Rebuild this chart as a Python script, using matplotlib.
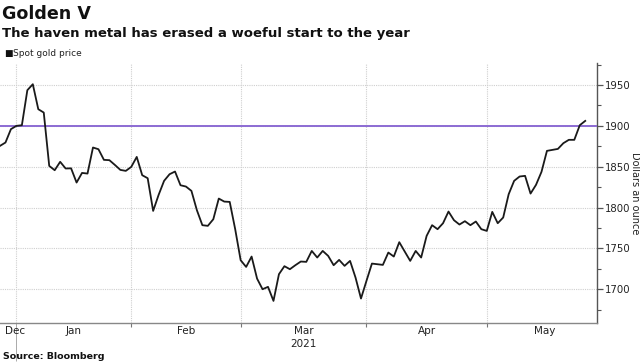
import numpy as np
import pandas as pd
import matplotlib
matplotlib.use("Agg")
import matplotlib.pyplot as plt
import matplotlib.transforms as mtransforms
from matplotlib.ticker import FixedLocator, MultipleLocator, NullFormatter

# spot gold, one value per trading day from 28 Dec 2020
prices = [
    1875.5, 1879.6, 1896.0, 1900.0, 1900.8, 1943.7, 1951.0, 1920.4, 1916.3, 1851.0,
    1845.7, 1856.0, 1847.8, 1848.0, 1830.6, 1842.4, 1841.6, 1873.5, 1871.4, 1858.4,
    1858.0, 1852.2, 1846.1, 1844.9, 1849.8, 1862.0, 1839.6, 1835.9, 1795.9, 1815.5,
    1832.7, 1840.8, 1844.1, 1827.3, 1825.7, 1820.4, 1796.7, 1778.4, 1777.6, 1785.7,
    1811.0, 1807.3, 1806.9, 1773.5, 1735.5, 1727.3, 1740.0, 1713.0, 1700.0, 1702.9,
    1685.7, 1718.4, 1728.2, 1724.5, 1729.4, 1733.9, 1733.5, 1746.9, 1738.8, 1746.9,
    1740.8, 1729.4, 1735.9, 1728.6, 1734.7, 1714.3, 1688.6, 1710.2, 1731.4, 1730.6,
    1729.8, 1744.9, 1740.0, 1757.6, 1746.1, 1734.7, 1746.9, 1738.8, 1765.3, 1778.4,
    1773.5, 1780.8, 1795.1, 1784.5, 1779.2, 1783.3, 1778.4, 1782.9, 1773.5, 1771.4,
    1794.7, 1780.8, 1787.8, 1816.3, 1832.7, 1838.0, 1838.8, 1817.1, 1827.8, 1843.7,
    1869.4, 1870.6, 1871.8, 1878.8, 1882.9, 1882.9, 1900.8, 1906.1,
]
start_date = "2020-12-28"
month_labels = ["Dec", "Jan", "Feb", "Mar", "Apr", "May"]
year_label = "2021"
y_ticks = [1700, 1750, 1800, 1850, 1900, 1950]
ref_level = 1900

x = np.arange(len(prices))

# month boundaries sit on the last trading day of the previous month
cal = pd.bdate_range(start_date, "2021-06-30").to_period("M")
bounds = [i - 1 for i in range(1, len(cal)) if cal[i] != cal[i - 1]]
year_bound = bounds[0]
x_max = 109.15

fig = plt.figure(figsize=(6.4, 3.63), dpi=100)
ax = fig.add_axes([0.0, 0.111, 597 / 640, 0.7155])

ax.plot(x, prices, color="#1a1a1a", lw=1.3, zorder=4)
ax.axhline(ref_level, color="#8c6bd3", lw=1.4, zorder=3)

ax.set_xlim(0, x_max)
ax.set_ylim(1659, 1977)

# y axis on the right
ax.yaxis.tick_right()
ax.yaxis.set_major_locator(FixedLocator(y_ticks))
ax.yaxis.set_minor_locator(MultipleLocator(25))
ax.tick_params(axis="y", which="major", length=4, width=0.9, color="#555555",
               labelsize=7.3, labelcolor="#222222", pad=2)
ax.tick_params(axis="y", which="minor", length=3, width=0.8, color="#555555")

# x axis: long tick at the year change, short ones at months
ax.xaxis.set_major_locator(FixedLocator([year_bound]))
ax.xaxis.set_minor_locator(FixedLocator([b for b in bounds[1:] if b < x_max]))
ax.xaxis.set_major_formatter(NullFormatter())
ax.tick_params(axis="x", which="major", length=27, width=0.7, color="#aaaaaa")
ax.tick_params(axis="x", which="minor", length=3, width=0.8, color="#777777")

ax.grid(True, axis="y", which="major", color="#cfcfcf", lw=0.8, ls=(0, (1, 1)))
ax.grid(True, axis="x", which="both", color="#cfcfcf", lw=0.8, ls=(0, (1, 1)))
ax.set_axisbelow(True)

for side in ["top", "left"]:
    ax.spines[side].set_visible(False)
ax.spines["right"].set_color("#555555")
ax.spines["right"].set_linewidth(1.0)
ax.spines["bottom"].set_color("#888888")
ax.spines["bottom"].set_linewidth(1.0)

# month labels centred in each month
trans = mtransforms.blended_transform_factory(ax.transData, ax.transAxes)
mids = [(a + b) / 2 for a, b in zip(bounds[:-1], bounds[1:])]
ax.text(1.0, -0.031, month_labels[0], transform=trans, ha="left", va="center",
        fontsize=7.5, color="#222222")
for lab, m in zip(month_labels[1:], mids):
    ax.text(m, -0.031, lab, transform=trans, ha="center", va="center",
            fontsize=7.5, color="#222222")
ax.text(mids[2], -0.082, year_label, transform=trans, ha="center", va="center",
        fontsize=7.5, color="#222222")

fig.text(630 / 640, 1 - 193 / 363, "Dollars an ounce", rotation=270,
         ha="left", va="center", fontsize=7, color="#222222")

fig.text(2 / 640, 1 - 19 / 363, "Golden V", fontsize=12.6, fontweight="bold",
         va="baseline", color="#111111")
fig.text(2 / 640, 1 - 36.5 / 363, "The haven metal has erased a woeful start to the year",
         fontsize=9.5, fontweight="bold", va="baseline", color="#111111")
fig.text(4 / 640, 1 - 56 / 363, "\u25a0", fontsize=6.5, va="baseline", color="#111111")
fig.text(13 / 640, 1 - 56 / 363, "Spot gold price", fontsize=6.5, va="baseline",
         color="#222222")
fig.text(3 / 640, 1 - 359 / 363, "Source: Bloomberg", fontsize=6.8, fontweight="bold",
         va="baseline", color="#111111")

fig.savefig("out.png", dpi=100)
